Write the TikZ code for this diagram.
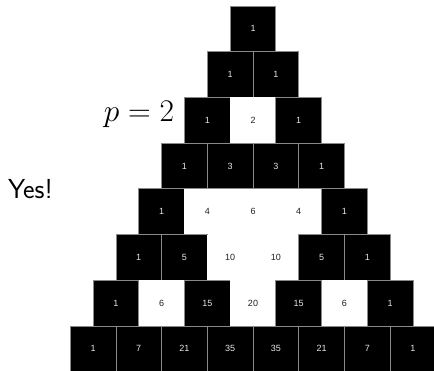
\RequirePackage{fix-cm}
\documentclass[tikz,border=0pt]{standalone}
\usepackage{fontspec}
\newfontfamily\numfont{Liberation Sans}
\definecolor{cellline}{HTML}{8A8A8A}
\definecolor{oddtext}{HTML}{E6E6E6}
\definecolor{eventext}{HTML}{222222}
\tikzset{
  cell/.style={minimum width=45.7pt, minimum height=45.7pt, inner sep=0pt, outer sep=0pt,
    font=\numfont\fontsize{9}{10}\selectfont},
  oddcell/.style={cell, fill=black, draw=cellline, line width=0.8pt, text=oddtext},
  evencell/.style={cell, fill=white, text=eventext},
}
\begin{document}
\begin{tikzpicture}[x=1pt, y=-1pt]
\useasboundingbox (0,0) rectangle (434,370);
\fill[white] (0,0) rectangle (434,370);
\foreach \r/\vals in {0/{1},1/{1,1},2/{1,2,1},3/{1,3,3,1},4/{1,4,6,4,1},5/{1,5,10,10,5,1},6/{1,6,15,20,15,6,1},7/{1,7,21,35,35,21,7,1}}{
  \foreach \v [count=\k from 0] in \vals {
    \pgfmathtruncatemacro{\myparity}{mod(\v,2)}
    \ifnum\myparity=1
      \node[oddcell] (c\r-\k) at ({253+(\k-\r/2)*45.7}, {28.85+\r*45.7}) {\v};
    \else
      \node[evencell] (c\r-\k) at ({253+(\k-\r/2)*45.7}, {28.85+\r*45.7}) {\v};
    \fi
  }
}
\node[anchor=base, inner sep=0pt, font=\fontsize{31.5}{34}\selectfont] (plabel) at (139,121) {$p=2$};
\node[anchor=base west, inner sep=0pt, font=\sffamily\fontsize{27.5}{30}\selectfont] (yes) at (8,198) {Yes!};
\end{tikzpicture}
\end{document}
